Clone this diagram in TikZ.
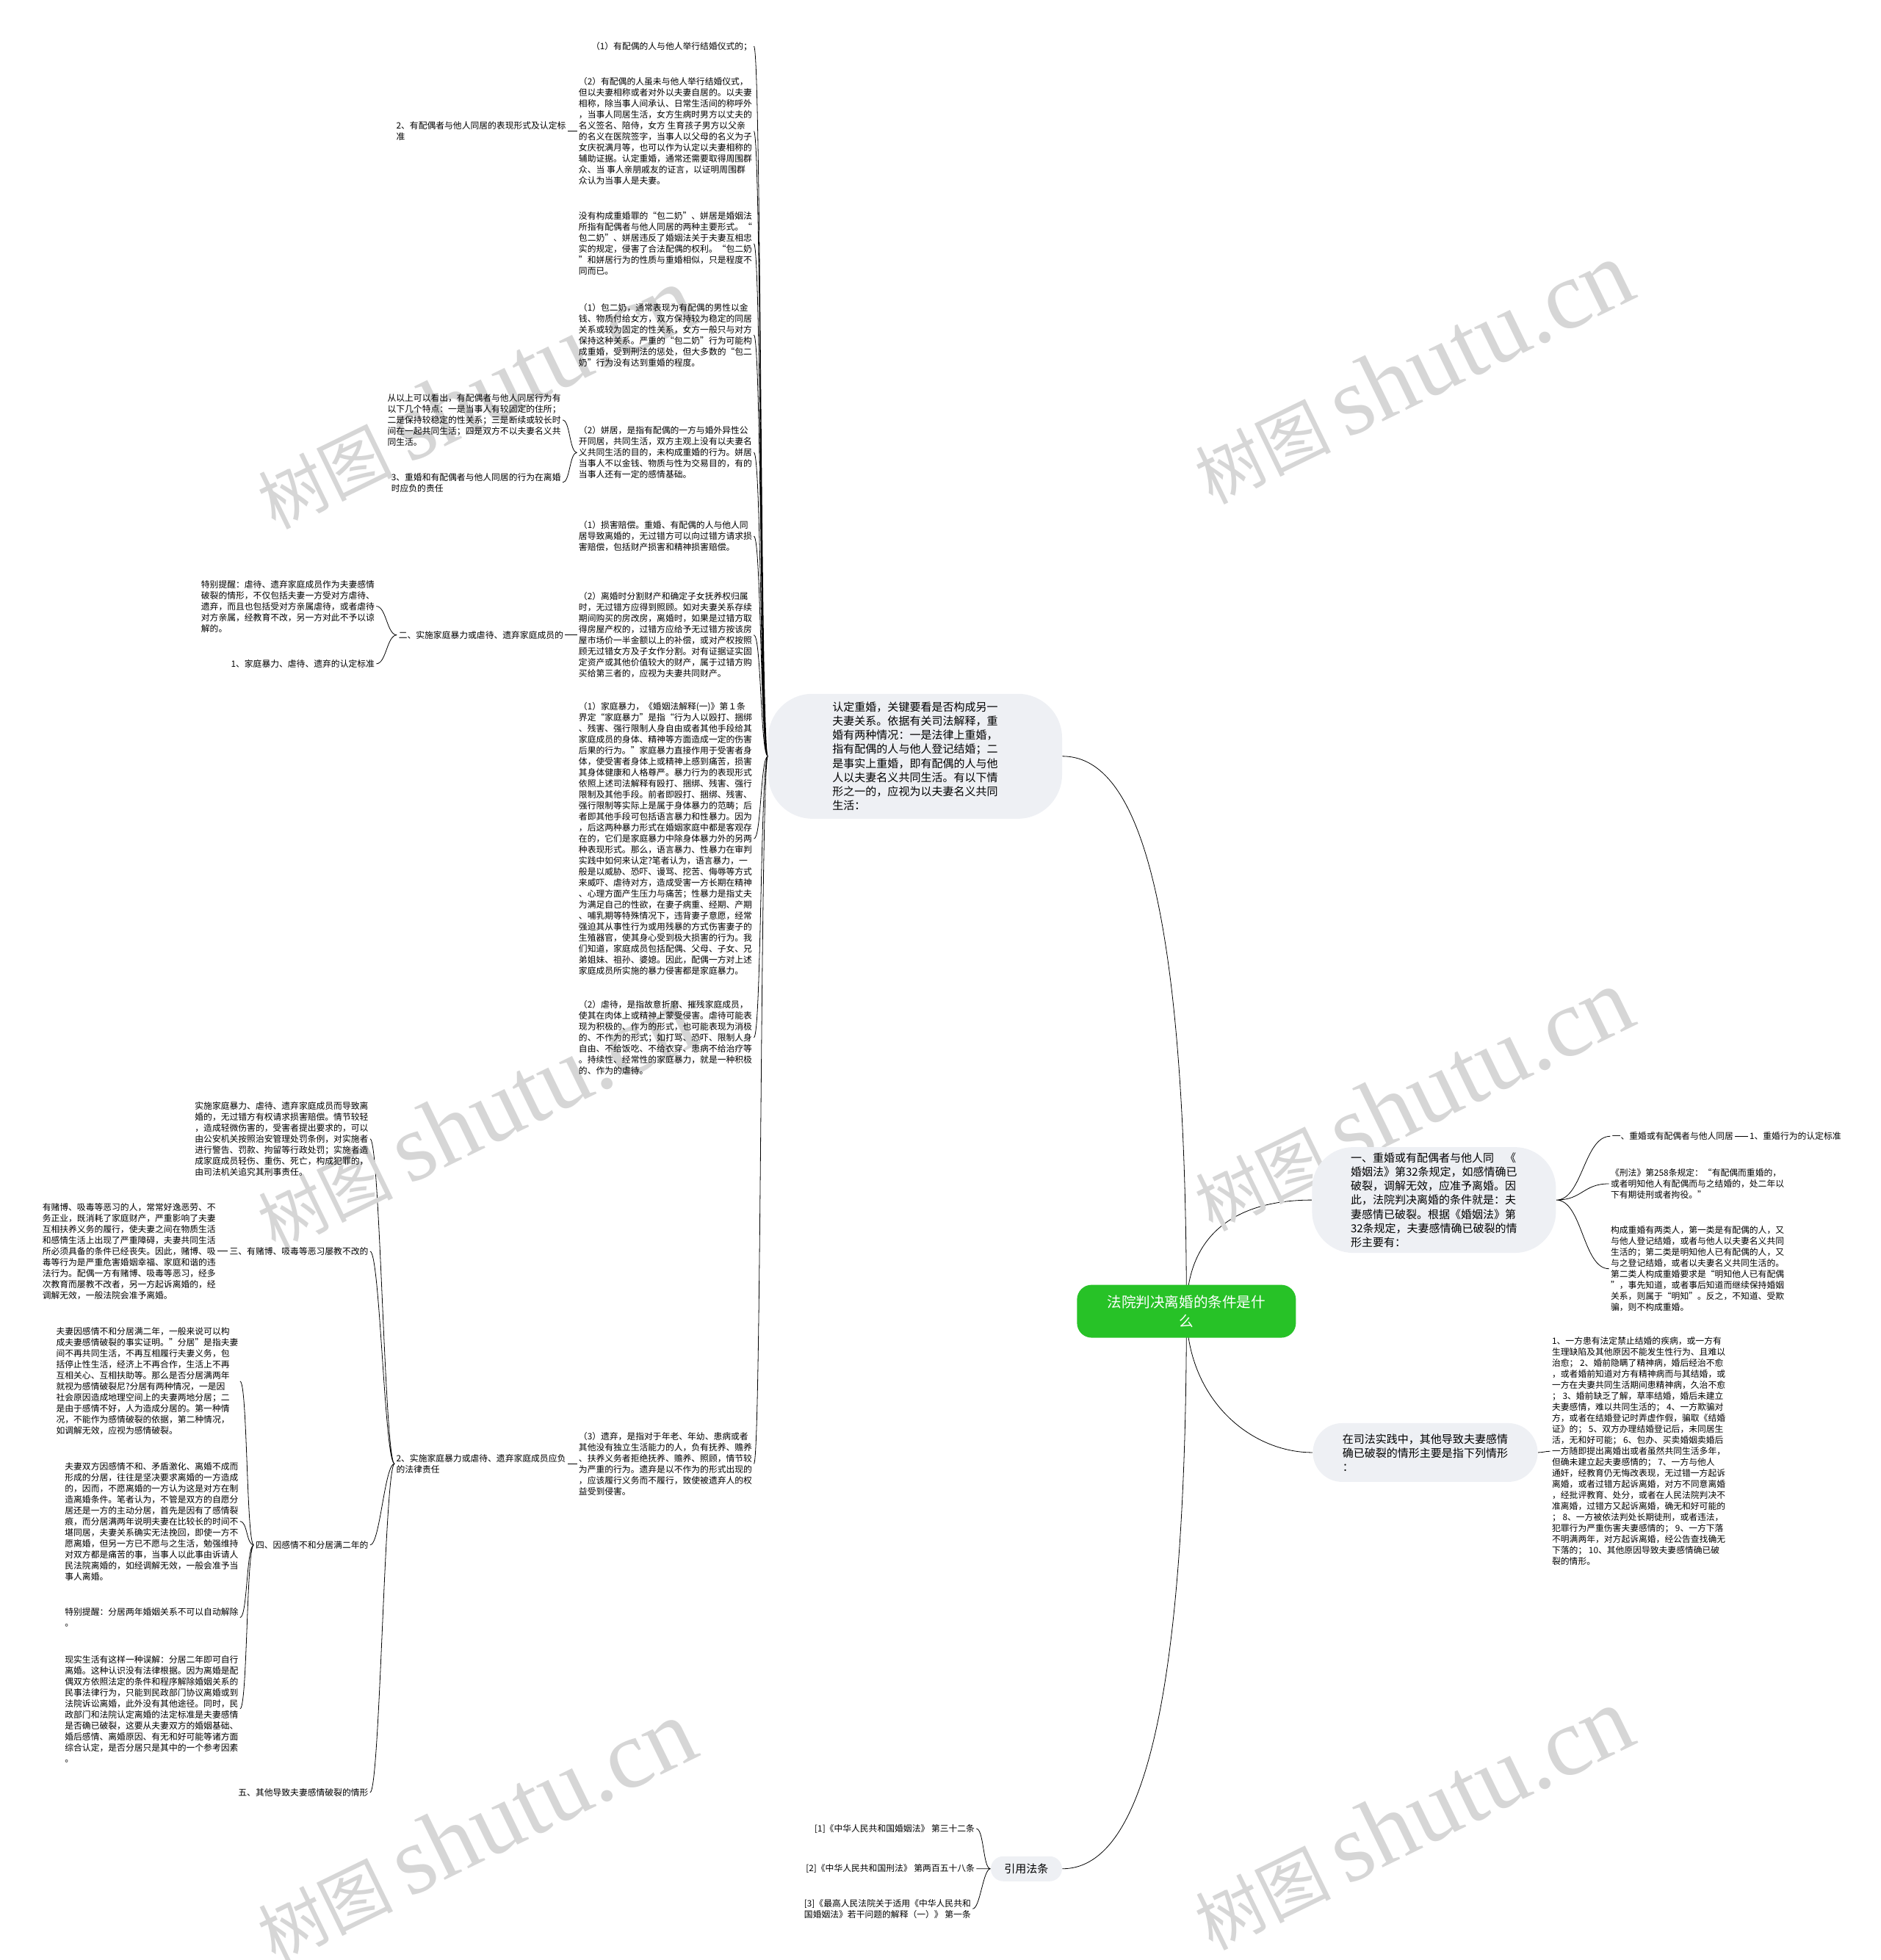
\documentclass[tikz,border=0pt]{standalone}
\usepackage{fontspec}
\setmainfont{Noto Sans CJK SC}
\newfontfamily\markfont{Liberation Serif}
\usepackage{tikz}
\usetikzlibrary{backgrounds}

\definecolor{rootgreen}{HTML}{27C227}
\definecolor{bubblegray}{HTML}{EEF0F4}
\definecolor{linegray}{HTML}{2A2A2A}
\definecolor{markgray}{HTML}{D6D6D6}

\tikzset{
  leaf/.style={inner sep=1pt, align=left, font=\fontsize{5.9}{7.5}\selectfont},
  bubble/.style={fill=bubblegray, rounded corners=#1, inner sep=0pt, align=left, font=\fontsize{7.5}{9.6}\selectfont},
  rootbox/.style={fill=rootgreen, text=white, rounded corners=10pt, inner sep=0pt, align=center,
    minimum width=149pt, minimum height=36pt, font=\fontsize{9.8}{12.8}\selectfont},
  watermark/.style={text=markgray, rotate=26},
  lb/.style={to path={.. controls +(-#1,0) and +(#1,0) .. (\tikztotarget)}},
  rb/.style={to path={.. controls +(#1,0) and +(-#1,0) .. (\tikztotarget)}},
}

\begin{document}
\begin{tikzpicture}[x=0.851pt, y=-0.851pt]
    \useasboundingbox (0,0) rectangle (1504,1568);

    \node[watermark] (wm1) at (380,318) {{\fontsize{46}{46}\selectfont 树图}\hspace{10pt}{\markfont\fontsize{66}{66}\selectfont shutu.cn}};
    \node[watermark] (wm2) at (1130,298) {{\fontsize{46}{46}\selectfont 树图}\hspace{10pt}{\markfont\fontsize{66}{66}\selectfont shutu.cn}};
    \node[watermark] (wm3) at (380,895) {{\fontsize{46}{46}\selectfont 树图}\hspace{10pt}{\markfont\fontsize{66}{66}\selectfont shutu.cn}};
    \node[watermark] (wm4) at (1130,880) {{\fontsize{46}{46}\selectfont 树图}\hspace{10pt}{\markfont\fontsize{66}{66}\selectfont shutu.cn}};
    \node[watermark] (wm5) at (380,1465) {{\fontsize{46}{46}\selectfont 树图}\hspace{10pt}{\markfont\fontsize{66}{66}\selectfont shutu.cn}};
    \node[watermark] (wm6) at (1130,1455) {{\fontsize{46}{46}\selectfont 树图}\hspace{10pt}{\markfont\fontsize{66}{66}\selectfont shutu.cn}};

    \node[rootbox] (root) at (949,1049) {法院判决离婚的条件是什\\么};

    \node[bubble=30pt, minimum width=200pt, minimum height=85pt] (bub) at (732,605) {认定重婚，关键要看是否构成另一\\夫妻关系。依据有关司法解释，重\\婚有两种情况：一是法律上重婚，\\指有配偶的人与他人登记结婚；二\\是事实上重婚，即有配偶的人与他\\人以夫妻名义共同生活。有以下情\\形之一的，应视为以夫妻名义共同\\生活：};
    \node[bubble=28pt, minimum width=166pt, minimum height=72pt] (b1) at (1147,960) {一、重婚或有配偶者与他人同\quad《\\婚姻法》第32条规定，如感情确已\\破裂，调解无效，应准予离婚。因\\此，法院判决离婚的条件就是：夫\\妻感情已破裂。根据《婚姻法》第\\32条规定，夫妻感情确已破裂的情\\形主要有：};
    \node[bubble=20pt, minimum width=153pt, minimum height=40pt] (b2) at (1140,1162) {在司法实践中，其他导致夫妻感情\\确已破裂的情形主要是指下列情形\\：};
    \node[bubble=8.5pt, minimum width=48.5pt, minimum height=17pt] (ref) at (821,1495) {引用法条};

    \node[leaf, anchor=east] (c1) at (603,37) {（1）有配偶的人与他人举行结婚仪式的；};
    \node[leaf, anchor=east] (c2) at (603,105) {（2）有配偶的人虽未与他人举行结婚仪式，\\但以夫妻相称或者对外以夫妻自居的。以夫妻\\相称，除当事人间承认、日常生活间的称呼外\\，当事人同居生活，女方生病时男方以丈夫的\\名义签名、陪侍，女方 生育孩子男方以父亲\\的名义在医院签字，当事人以父母的名义为子\\女庆祝满月等，也可以作为认定以夫妻相称的\\辅助证据。认定重婚，通常还需要取得周围群\\众、当 事人亲朋戚友的证言，以证明周围群\\众认为当事人是夫妻。};
    \node[leaf, anchor=east] (c3) at (603,195) {没有构成重婚罪的“包二奶”、姘居是婚姻法\\所指有配偶者与他人同居的两种主要形式。“\\包二奶”、姘居违反了婚姻法关于夫妻互相忠\\实的规定，侵害了合法配偶的权利。“包二奶\\”和姘居行为的性质与重婚相似，只是程度不\\同而已。};
    \node[leaf, anchor=east] (c4) at (603,268) {（1）包二奶，通常表现为有配偶的男性以金\\钱、物质付给女方，双方保持较为稳定的同居\\关系或较为固定的性关系，女方一般只与对方\\保持这种关系。严重的“包二奶”行为可能构\\成重婚，受到刑法的惩处，但大多数的“包二\\奶”行为没有达到重婚的程度。};
    \node[leaf, anchor=east] (c5) at (603,362) {（2）姘居，是指有配偶的一方与婚外异性公\\开同居，共同生活，双方主观上没有以夫妻名\\义共同生活的目的，未构成重婚的行为。姘居\\当事人不以金钱、物质与性为交易目的，有的\\当事人还有一定的感情基础。};
    \node[leaf, anchor=east] (c6) at (603,429) {（1）损害赔偿。重婚、有配偶的人与他人同\\居导致离婚的，无过错方可以向过错方请求损\\害赔偿，包括财产损害和精神损害赔偿。};
    \node[leaf, anchor=east] (c7) at (603,508) {（2）离婚时分割财产和确定子女抚养权归属\\时，无过错方应得到照顾。如对夫妻关系存续\\期间购买的房改房，离婚时，如果是过错方取\\得房屋产权的，过错方应给予无过错方按该房\\屋市场价一半金额以上的补偿，或对产权按照\\顾无过错女方及子女作分割。对有证据证实固\\定资产或其他价值较大的财产，属于过错方购\\买给第三者的，应视为夫妻共同财产。};
    \node[leaf, anchor=east] (c8) at (603,671) {（1）家庭暴力，《婚姻法解释(一)》第１条\\界定“家庭暴力”是指“行为人以殴打、捆绑\\、残害、强行限制人身自由或者其他手段给其\\家庭成员的身体、精神等方面造成一定的伤害\\后果的行为。”家庭暴力直接作用于受害者身\\体，使受害者身体上或精神上感到痛苦，损害\\其身体健康和人格尊严。暴力行为的表现形式\\依照上述司法解释有殴打、捆绑、残害、强行\\限制及其他手段。前者即殴打、捆绑、残害、\\强行限制等实际上是属于身体暴力的范畴；后\\者即其他手段可包括语言暴力和性暴力。因为\\，后这两种暴力形式在婚姻家庭中都是客观存\\在的，它们是家庭暴力中除身体暴力外的另两\\种表现形式。那么，语言暴力、性暴力在审判\\实践中如何来认定?笔者认为，语言暴力，一\\般是以威胁、恐吓、谩骂、挖苦、侮辱等方式\\来威吓、虐待对方，造成受害一方长期在精神\\、心理方面产生压力与痛苦；性暴力是指丈夫\\为满足自己的性欲，在妻子病重、经期、产期\\、哺乳期等特殊情况下，违背妻子意愿，经常\\强迫其从事性行为或用残暴的方式伤害妻子的\\生殖器官，使其身心受到极大损害的行为。我\\们知道，家庭成员包括配偶、父母、子女、兄\\弟姐妹、祖孙、婆媳。因此，配偶一方对上述\\家庭成员所实施的暴力侵害都是家庭暴力。};
    \node[leaf, anchor=east] (c9) at (603,830) {（2）虐待，是指故意折磨、摧残家庭成员，\\使其在肉体上或精神上蒙受侵害。虐待可能表\\现为积极的、作为的形式，也可能表现为消极\\的、不作为的形式；如打骂、恐吓、限制人身\\自由、不给饭吃、不给衣穿、患病不给治疗等\\。持续性、经常性的家庭暴力，就是一种积极\\的、作为的虐待。};
    \node[leaf, anchor=east] (c10) at (603,1171) {（3）遗弃，是指对于年老、年幼、患病或者\\其他没有独立生活能力的人，负有抚养、赡养\\、扶养义务者拒绝抚养、赡养、照顾，情节较\\为严重的行为。遗弃是以不作为的形式出现的\\，应该履行义务而不履行，致使被遗弃人的权\\益受到侵害。};

    \node[leaf, anchor=east] (la) at (454,105) {2、有配偶者与他人同居的表现形式及认定标\\准};
    \node[leaf, anchor=east] (lb1) at (450,336) {从以上可以看出，有配偶者与他人同居行为有\\以下几个特点：一是当事人有较固定的住所；\\二是保持较稳定的性关系；三是断续或较长时\\间在一起共同生活；四是双方不以夫妻名义共\\同生活。};
    \node[leaf, anchor=east] (lb2) at (450,386) {3、重婚和有配偶者与他人同居的行为在离婚\\时应负的责任};
    \node[leaf, anchor=east] (lc) at (452,508) {二、实施家庭暴力或虐待、遗弃家庭成员的};
    \node[leaf, anchor=east] (lc1) at (301,485) {特别提醒：虐待、遗弃家庭成员作为夫妻感情\\破裂的情形，不仅包括夫妻一方受对方虐待、\\遗弃，而且也包括受对方亲属虐待，或者虐待\\对方亲属，经教育不改，另一方对此不予以谅\\解的。};
    \node[leaf, anchor=east] (lc2) at (301,531) {1、家庭暴力、虐待、遗弃的认定标准};
    \node[leaf, anchor=east] (ld) at (454,1171) {2、实施家庭暴力或虐待、遗弃家庭成员应负\\的法律责任};
    \node[leaf, anchor=east] (ld1) at (296,911) {实施家庭暴力、虐待、遗弃家庭成员而导致离\\婚的，无过错方有权请求损害赔偿。情节较轻\\，造成轻微伤害的，受害者提出要求的，可以\\由公安机关按照治安管理处罚条例，对实施者\\进行警告、罚款、拘留等行政处罚；实施者造\\成家庭成员轻伤、重伤、死亡，构成犯罪的，\\由司法机关追究其刑事责任。};
    \node[leaf, anchor=east] (ld2) at (296,1001) {三、有赌博、吸毒等恶习屡教不改的};
    \node[leaf, anchor=east] (ld2a) at (174,1001) {有赌博、吸毒等恶习的人，常常好逸恶劳、不\\务正业，既消耗了家庭财产，严重影响了夫妻\\互相扶养义务的履行，使夫妻之间在物质生活\\和感情生活上出现了严重障碍，夫妻共同生活\\所必须具备的条件已经丧失。因此，赌博、吸\\毒等行为是严重危害婚姻幸福、家庭和谐的违\\法行为。配偶一方有赌博、吸毒等恶习，经多\\次教育而屡教不改者，另一方起诉离婚的，经\\调解无效，一般法院会准予离婚。};
    \node[leaf, anchor=east] (ld3) at (296,1236) {四、因感情不和分居满二年的};
    \node[leaf, anchor=east] (ld3a) at (192,1105) {夫妻因感情不和分居满二年，一般来说可以构\\成夫妻感情破裂的事实证明。"分居"是指夫妻\\间不再共同生活，不再互相履行夫妻义务，包\\括停止性生活，经济上不再合作，生活上不再\\互相关心、互相扶助等。那么是否分居满两年\\就视为感情破裂尼?分居有两种情况，一是因\\社会原因造成地理空间上的夫妻两地分居；二\\是由于感情不好，人为造成分居的。第一种情\\况，不能作为感情破裂的依据，第二种情况，\\如调解无效，应视为感情破裂。};
    \node[leaf, anchor=east] (ld3b) at (192,1217) {夫妻双方因感情不和、矛盾激化、离婚不成而\\形成的分居，往往是坚决要求离婚的一方造成\\的，因而，不愿离婚的一方认为这是对方在制\\造离婚条件。笔者认为，不管是双方的自愿分\\居还是一方的主动分居，首先是因有了感情裂\\痕，而分居满两年说明夫妻在比较长的时间不\\堪同居，夫妻关系确实无法挽回，即使一方不\\愿离婚，但另一方已不愿与之生活，勉强维持\\对双方都是痛苦的事，当事人以此事由诉请人\\民法院离婚的，如经调解无效，一般会准予当\\事人离婚。};
    \node[leaf, anchor=east] (ld3c) at (192,1294) {特别提醒：分居两年婚姻关系不可以自动解除\\。};
    \node[leaf, anchor=east] (ld3d) at (192,1367) {现实生活有这样一种误解：分居二年即可自行\\离婚。这种认识没有法律根据。因为离婚是配\\偶双方依照法定的条件和程序解除婚姻关系的\\民事法律行为，只能到民政部门协议离婚或到\\法院诉讼离婚，此外没有其他途径。同时，民\\政部门和法院认定离婚的法定标准是夫妻感情\\是否确已破裂，这要从夫妻双方的婚姻基础、\\婚后感情、离婚原因、有无和好可能等诸方面\\综合认定，是否分居只是其中的一个参考因素\\。};
    \node[leaf, anchor=east] (ld4) at (296,1434) {五、其他导致夫妻感情破裂的情形};

    \node[leaf, anchor=west] (r1) at (1288,909) {一、重婚或有配偶者与他人同居};
    \node[leaf, anchor=west] (r1a) at (1398,909) {1、重婚行为的认定标准};
    \node[leaf, anchor=west] (r2) at (1287,947) {《刑法》第258条规定：“有配偶而重婚的，\\或者明知他人有配偶而与之结婚的，处二年以\\下有期徒刑或者拘役。”};
    \node[leaf, anchor=west] (r3) at (1287,1015) {构成重婚有两类人，第一类是有配偶的人，又\\与他人登记结婚，或者与他人以夫妻名义共同\\生活的；第二类是明知他人已有配偶的人，又\\与之登记结婚，或者以夫妻名义共同生活的。\\第二类人构成重婚要求是“明知他人已有配偶\\”，事先知道，或者事后知道而继续保持婚姻\\关系，则属于“明知”。反之，不知道、受欺\\骗，则不构成重婚。};
    \node[leaf, anchor=west] (b2c) at (1240,1161) {1、一方患有法定禁止结婚的疾病，或一方有\\生理缺陷及其他原因不能发生性行为、且难以\\治愈； 2、婚前隐瞒了精神病，婚后经治不愈\\，或者婚前知道对方有精神病而与其结婚，或\\一方在夫妻共同生活期间患精神病，久治不愈\\； 3、婚前缺乏了解，草率结婚，婚后未建立\\夫妻感情，难以共同生活的； 4、一方欺骗对\\方，或者在结婚登记时弄虚作假，骗取《结婚\\证》的； 5、双方办理结婚登记后，未同居生\\活，无和好可能； 6、包办、买卖婚姻卖婚后\\一方随即提出离婚出或者虽然共同生活多年，\\但确未建立起夫妻感情的； 7、一方与他人\\通奸，经教育仍无悔改表现，无过错一方起诉\\离婚，或者过错方起诉离婚，对方不同意离婚\\，经批评教育、处分，或者在人民法院判决不\\准离婚，过错方又起诉离婚，确无和好可能的\\； 8、一方被依法判处长期徒刑，或者违法，\\犯罪行为严重伤害夫妻感情的； 9、一方下落\\不明满两年，对方起诉离婚，经公告查找确无\\下落的； 10、其他原因导致夫妻感情确已破\\裂的情形。};

    \node[leaf, anchor=east] (ref1) at (781,1463) {[1]《中华人民共和国婚姻法》 第三十二条};
    \node[leaf, anchor=east] (ref2) at (781,1495) {[2]《中华人民共和国刑法》 第两百五十八条};
    \node[leaf, anchor=east] (ref3) at (778,1527) {[3]《最高人民法院关于适用《中华人民共和\\国婚姻法》若干问题的解释（一）》 第一条};

    \begin{scope}[on background layer, linegray, line width=1pt]
        \draw (root.center) .. controls +(0,-350) and +(55,0) .. (bub.east);
        \draw (root.center) .. controls +(0,-70) and +(-50,0) .. (b1.west);
        \draw (root.center) .. controls +(0,70) and +(-50,0) .. (b2.west);
        \draw (root.center) .. controls +(0,330) and +(60,0) .. (ref.east);

        \draw (bub.west) to[lb=6] (c1.east) (bub.west) to[lb=6] (c2.east)
            (bub.west) to[lb=6] (c3.east) (bub.west) to[lb=6] (c4.east)
            (bub.west) to[lb=6] (c5.east) (bub.west) to[lb=6] (c6.east)
            (bub.west) to[lb=6] (c7.east) (bub.west) to[lb=6] (c8.east)
            (bub.west) to[lb=6] (c9.east) (bub.west) to[lb=6] (c10.east);
        \draw (c2.west) to[lb=4] (la.east);
        \draw (c5.west) to[lb=6] (lb1.east) (c5.west) to[lb=6] (lb2.east);
        \draw (c7.west) to[lb=4] (lc.east);
        \draw (lc.west) to[lb=8] (lc1.east) (lc.west) to[lb=8] (lc2.east);
        \draw (c10.west) to[lb=4] (ld.east);
        \draw (ld.west) to[lb=8] (ld1.east) (ld.west) to[lb=8] (ld2.east)
            (ld.west) to[lb=8] (ld3.east) (ld.west) to[lb=8] (ld4.east);
        \draw (ld2.west) to[lb=4] (ld2a.east);
        \draw (ld3.west) to[lb=6] (ld3a.east) (ld3.west) to[lb=6] (ld3b.east)
            (ld3.west) to[lb=6] (ld3c.east) (ld3.west) to[lb=6] (ld3d.east);

        \draw (b1.east) to[rb=21] (r1.west) (b1.east) to[rb=21] (r2.west)
            (b1.east) to[rb=21] (r3.west);
        \draw (r1.east) to[rb=4] (r1a.west);
        \draw (b2.east) to[rb=4] (b2c.west);

        \draw (ref.west) to[lb=6] (ref1.east) (ref.west) to[lb=6] (ref2.east)
            (ref.west) to[lb=6] (ref3.east);
    \end{scope}
\end{tikzpicture}
\end{document}
